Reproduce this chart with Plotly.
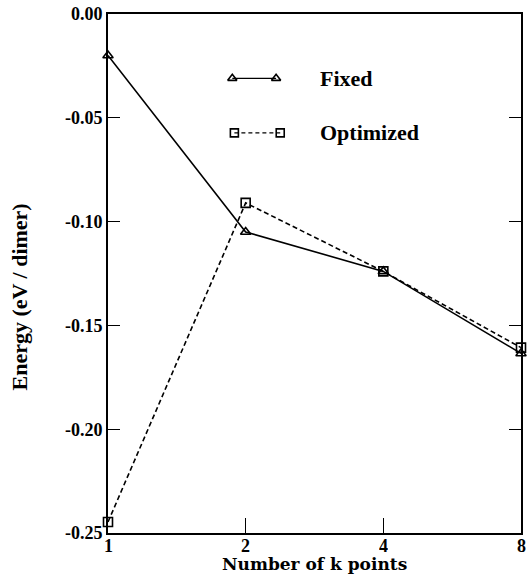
import math
import plotly.graph_objects as go

# k-point convergence of the dimer energy
k_points = [1, 2, 4, 8]
energy_fixed = [-0.020, -0.105, -0.124, -0.1635]
energy_optimized = [-0.2447, -0.091, -0.124, -0.1607]

y_ticks = [0.00, -0.05, -0.10, -0.15, -0.20, -0.25]
y_tick_text = ["0.00", "-0.05", "-0.10", "-0.15", "-0.20", "-0.25"]
x_tick_text = ["1", "2", "4", "8"]

series_names = ["Fixed", "Optimized"]

SERIF = "Liberation Serif"
BLACK = "black"

fig = go.Figure()

fig.add_trace(go.Scatter(
    x=k_points, y=energy_fixed, mode="lines+markers", name=series_names[0],
    line=dict(color=BLACK, width=1.6),
    marker=dict(symbol="triangle-up-open", size=9, color=BLACK, line=dict(width=1.6)),
    showlegend=False, cliponaxis=False,
))
fig.add_trace(go.Scatter(
    x=k_points, y=energy_optimized, mode="lines+markers", name=series_names[1],
    line=dict(color=BLACK, width=1.6, dash="5px,3px"),
    marker=dict(symbol="square-open", size=9, color=BLACK, line=dict(width=1.6)),
    showlegend=False, cliponaxis=False,
))

# Hand-drawn key: marker - line - marker, on an overlay axis in unit coordinates
key_rows = [
    dict(y=0.876, x0=0.301, x1=0.407, symbol="triangle-up-open", dash="solid"),
    dict(y=0.771, x0=0.306, x1=0.417, symbol="square-open", dash="4px,3px"),
]
for row, name in zip(key_rows, series_names):
    fig.add_trace(go.Scatter(
        x=[row["x0"], row["x1"]], y=[row["y"], row["y"]],
        xaxis="x2", yaxis="y2", mode="lines+markers",
        line=dict(color=BLACK, width=1.4, dash=row["dash"]),
        marker=dict(symbol=row["symbol"], size=8, color=BLACK, line=dict(width=1.6)),
        showlegend=False, hoverinfo="skip",
    ))
    fig.add_annotation(
        xref="paper", yref="paper", x=0.509, y=row["y"], text=f"<b>{name}</b>",
        showarrow=False, xanchor="left", yanchor="middle",
        font=dict(family=SERIF, size=22, color=BLACK),
    )

fig.update_layout(
    width=527, height=579,
    margin=dict(l=108, r=4, t=10, b=46),
    paper_bgcolor="white", plot_bgcolor="white",
    showlegend=False,
    xaxis=dict(
        type="log", range=[0, math.log10(8)], tickvals=k_points,
        showticklabels=False,
        ticks="inside", ticklen=15, tickwidth=1, tickcolor=BLACK,
        showline=True, linecolor=BLACK, linewidth=2, mirror=True,
        showgrid=False, zeroline=False,
    ),
    yaxis=dict(
        range=[-0.25, 0.0], tickvals=y_ticks,
        ticktext=[f"<b>{t}</b>" for t in y_tick_text],
        ticks="inside", ticklen=12, tickwidth=1, tickcolor=BLACK,
        showline=True, linecolor=BLACK, linewidth=2, mirror="ticks",
        showgrid=False, zeroline=False,
        tickfont=dict(family=SERIF, size=18, color=BLACK),
    ),
    xaxis2=dict(range=[0, 1], overlaying="x", visible=False, fixedrange=True),
    yaxis2=dict(range=[0, 1], overlaying="y", visible=False, fixedrange=True),
)

# x tick labels set tight under the axis line, placed on the log axis
for k, label in zip(k_points, x_tick_text):
    fig.add_annotation(
        xref="x", yref="paper", x=math.log10(k), y=-0.008, text=f"<b>{label}</b>",
        showarrow=False, xanchor="center", yanchor="top", height=15,
        borderpad=0, font=dict(family=SERIF, size=18, color=BLACK),
    )

fig.add_annotation(
    xref="paper", yref="paper", x=0.5, y=-0.0605, text="<b>Number of k points</b>",
    showarrow=False, xanchor="center", yanchor="middle",
    borderpad=0, font=dict(family="DejaVu Serif", size=17, color=BLACK),
)
fig.add_annotation(
    xref="paper", yref="paper", x=-0.214, y=0.455, text="<b>Energy (eV / dimer)</b>",
    showarrow=False, textangle=-90, xanchor="center", yanchor="middle",
    font=dict(family=SERIF, size=22, color=BLACK),
)

fig.write_html("out.html")
